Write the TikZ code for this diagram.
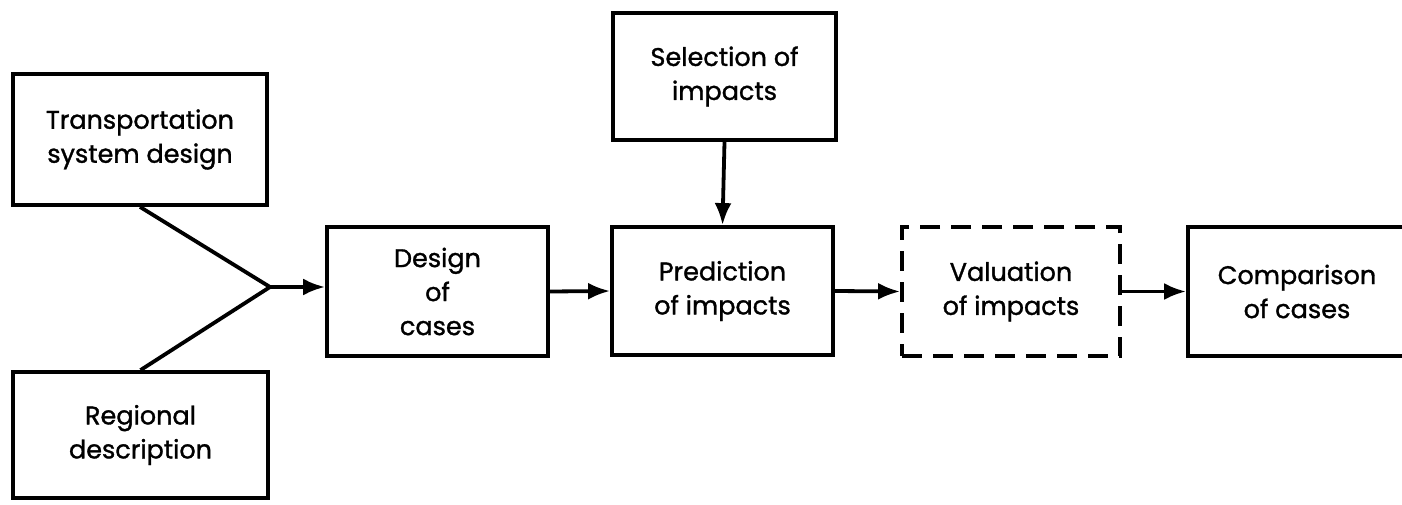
\documentclass[tikz,border=0pt]{standalone}
\usepackage{fontspec}
\setmainfont{Poppins}[FakeBold=1.2]
\usetikzlibrary{arrows.meta}
\tikzset{
  blk/.style={draw,line width=3.8pt,minimum width=221pt,minimum height=129pt,
    align=center,inner sep=0pt,font=\fontsize{25.5}{34}\selectfont},
  dblk/.style={blk,dash pattern=on 20pt off 11pt},
  flow/.style={line width=3.8pt,-{Latex[length=22pt,width=17pt]}}
}
\begin{document}
\begin{tikzpicture}[x=1pt,y=-1pt,line join=miter]
  \useasboundingbox (0,0) rectangle (1402,505);
  % inputs on the left
  \node[blk,minimum width=254pt,minimum height=131pt] (trans) at (140,139.5) {Transportation\\system design};
  \node[blk,minimum width=255pt,minimum height=126pt] (reg) at (140.5,435) {Regional\\description};
  \coordinate (jn) at (270,287);
  % main chain
  \node[blk] (design) at (437.5,291.5) {Design\\of\\cases};
  \node[blk,minimum width=223pt,minimum height=127pt] (select) at (724.5,76.5) {Selection of\\impacts};
  \node[blk,minimum height=128pt] (predict) at (722.5,291) {Prediction\\of impacts};
  \node[dblk,minimum width=218pt] (valu) at (1011,291.5) {Valuation\\of impacts};
  \node[blk,minimum width=218pt] (comp) at (1297,291.5) {Comparison\\of cases};
  \draw[line width=3.8pt] (trans.south) -- (jn) -- (reg.north);
  \draw[flow] (jn) -- (design.west |- jn);
  \draw[flow] (design.east) -- (predict.west);
  \draw[flow] (select.south) -- (predict.north);
  \draw[flow] (predict.east) -- (valu.west);
  \draw[flow] (valu.east) -- (comp.west);
\end{tikzpicture}
\end{document}
